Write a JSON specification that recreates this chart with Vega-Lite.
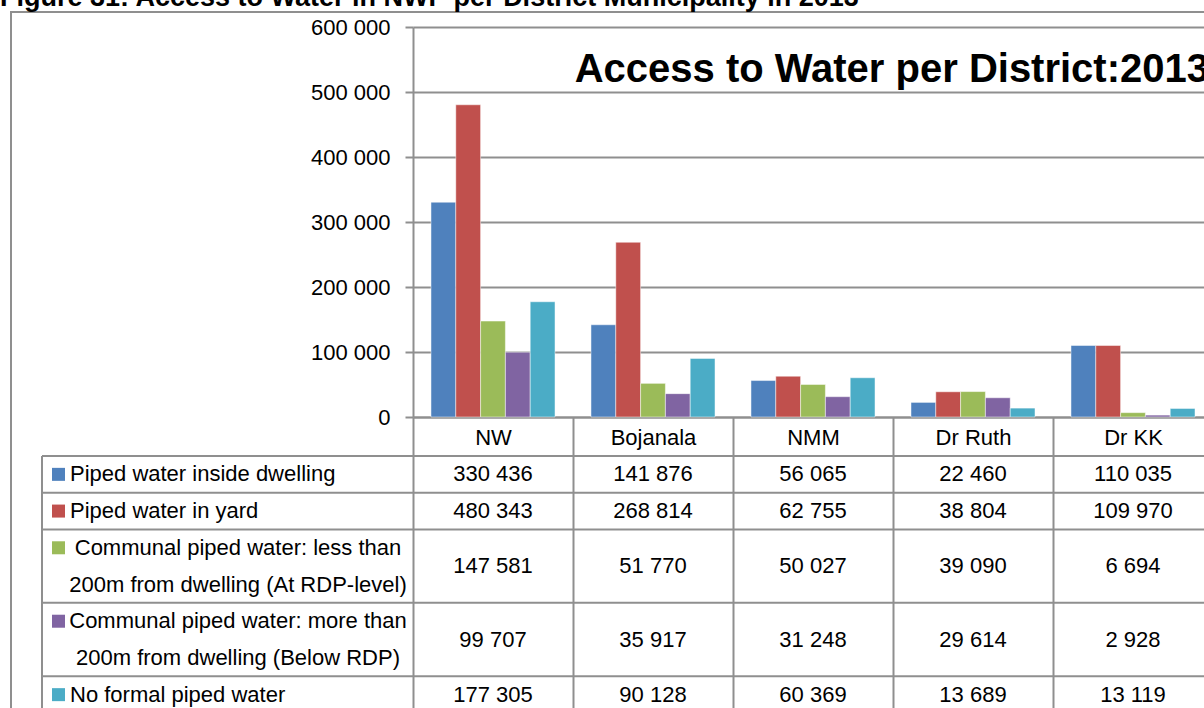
{
  "$schema": "https://vega.github.io/schema/vega-lite/v6.json",
  "width": 791,
  "height": 390,
  "autosize": "none",
  "padding": {"left": 413, "top": 27, "right": 0, "bottom": 291},
  "background": "white",
  "config": {
    "locale": {"number": {"decimal": ".", "thousands": " ", "grouping": [3], "currency": ["", ""]}},
    "view": {"stroke": null},
    "font": "Liberation Sans"
  },
  "title": {
    "text": "Access to Water per District:2013",
    "orient": "top",
    "anchor": "end",
    "frame": "group",
    "offset": -106,
    "dx": 5,
    "font": "Liberation Sans",
    "fontSize": 40,
    "fontWeight": "bold",
    "color": "black"
  },
  "datasets": {
    "water": [
      {"district": "NW", "series": "Piped water inside dwelling", "value": 330436},
      {"district": "NW", "series": "Piped water in yard", "value": 480343},
      {"district": "NW", "series": "Communal piped water: less than 200m from dwelling (At RDP-level)", "value": 147581},
      {"district": "NW", "series": "Communal piped water: more than 200m from dwelling (Below RDP)", "value": 99707},
      {"district": "NW", "series": "No formal piped water", "value": 177305},
      {"district": "Bojanala", "series": "Piped water inside dwelling", "value": 141876},
      {"district": "Bojanala", "series": "Piped water in yard", "value": 268814},
      {"district": "Bojanala", "series": "Communal piped water: less than 200m from dwelling (At RDP-level)", "value": 51770},
      {"district": "Bojanala", "series": "Communal piped water: more than 200m from dwelling (Below RDP)", "value": 35917},
      {"district": "Bojanala", "series": "No formal piped water", "value": 90128},
      {"district": "NMM", "series": "Piped water inside dwelling", "value": 56065},
      {"district": "NMM", "series": "Piped water in yard", "value": 62755},
      {"district": "NMM", "series": "Communal piped water: less than 200m from dwelling (At RDP-level)", "value": 50027},
      {"district": "NMM", "series": "Communal piped water: more than 200m from dwelling (Below RDP)", "value": 31248},
      {"district": "NMM", "series": "No formal piped water", "value": 60369},
      {"district": "Dr Ruth", "series": "Piped water inside dwelling", "value": 22460},
      {"district": "Dr Ruth", "series": "Piped water in yard", "value": 38804},
      {"district": "Dr Ruth", "series": "Communal piped water: less than 200m from dwelling (At RDP-level)", "value": 39090},
      {"district": "Dr Ruth", "series": "Communal piped water: more than 200m from dwelling (Below RDP)", "value": 29614},
      {"district": "Dr Ruth", "series": "No formal piped water", "value": 13689},
      {"district": "Dr KK", "series": "Piped water inside dwelling", "value": 110035},
      {"district": "Dr KK", "series": "Piped water in yard", "value": 109970},
      {"district": "Dr KK", "series": "Communal piped water: less than 200m from dwelling (At RDP-level)", "value": 6694},
      {"district": "Dr KK", "series": "Communal piped water: more than 200m from dwelling (Below RDP)", "value": 2928},
      {"district": "Dr KK", "series": "No formal piped water", "value": 13119}
    ],
    "rowmap": [
      {"series": "Piped water inside dwelling", "top": "r1", "bottom": "r1"},
      {"series": "Piped water in yard", "top": "r2", "bottom": "r2"},
      {"series": "Communal piped water: less than 200m from dwelling (At RDP-level)", "top": "r3a", "bottom": "r3b"},
      {"series": "Communal piped water: more than 200m from dwelling (Below RDP)", "top": "r4a", "bottom": "r4b"},
      {"series": "No formal piped water", "top": "r5", "bottom": "r5"}
    ],
    "rows": [
      {"series": "Piped water inside dwelling", "slot": "r1", "line": "Piped water inside dwelling"},
      {"series": "Piped water in yard", "slot": "r2", "line": "Piped water in yard"},
      {"series": "Communal piped water: less than 200m from dwelling (At RDP-level)", "slot": "r3a", "line": "Communal piped water: less than"},
      {"series": "Communal piped water: less than 200m from dwelling (At RDP-level)", "slot": "r3b", "line": "200m from dwelling (At RDP-level)"},
      {"series": "Communal piped water: more than 200m from dwelling (Below RDP)", "slot": "r4a", "line": "Communal piped water: more than"},
      {"series": "Communal piped water: more than 200m from dwelling (Below RDP)", "slot": "r4b", "line": "200m from dwelling (Below RDP)"},
      {"series": "No formal piped water", "slot": "r5", "line": "No formal piped water"}
    ]
  },
  "layer": [
    {
      "data": {"values": [{}]},
      "mark": {"type": "rect", "fill": null, "stroke": "#8f8f8f", "strokeWidth": 2, "x": -402, "y": -15, "x2": 820, "y2": 700},
      "encoding": {}
    },
    {
      "data": {"values": [{}]},
      "mark": {"type": "text", "text": "Figure 31: Access to Water in NWP per District Municipality in 2013", "font": "Liberation Sans", "fontWeight": "bold", "fontSize": 27, "align": "left", "baseline": "alphabetic", "x": -413, "y": -21, "color": "black"},
      "encoding": {}
    },
    {
      "data": {"name": "rowmap"},
      "mark": {"type": "rule", "color": "#8f8f8f", "strokeWidth": 2},
      "encoding": {
        "x": {"datum": "legend", "type": "nominal", "bandPosition": 0, "scale": {"type": "band", "domain": ["legend"], "range": [-371, 0], "paddingInner": 0, "paddingOuter": 0}, "axis": null},
        "x2": {"value": "width"},
        "y": {"field": "top", "type": "nominal", "bandPosition": 0, "scale": {"type": "band", "domain": ["r1", "r2", "r3a", "r3b", "r4a", "r4b", "r5"], "range": [429, 686], "paddingInner": 0, "paddingOuter": 0}, "axis": null}
      }
    },
    {
      "data": {"values": [{}]},
      "mark": {"type": "rule", "color": "#8f8f8f", "strokeWidth": 2},
      "encoding": {
        "x": {"datum": "legend", "type": "nominal", "bandPosition": 0, "scale": {"type": "band", "domain": ["legend"], "range": [-371, 0], "paddingInner": 0, "paddingOuter": 0}, "axis": null},
        "y": {"datum": "r1", "type": "nominal", "bandPosition": 0, "scale": {"type": "band", "domain": ["r1", "r2", "r3a", "r3b", "r4a", "r4b", "r5"], "range": [429, 686], "paddingInner": 0, "paddingOuter": 0}, "axis": null},
        "y2": {"value": {"expr": "height + 400"}}
      }
    },
    {
      "data": {"name": "water"},
      "mark": {"type": "bar", "stroke": "white", "strokeWidth": 0.8, "strokeOpacity": 0.6},
      "encoding": {
        "x": {
          "field": "district", "type": "nominal", "sort": null,
          "scale": {"domain": ["NW", "Bojanala", "NMM", "Dr Ruth", "Dr KK"], "range": [0, 800], "paddingInner": 0, "paddingOuter": 0},
          "axis": {
            "orient": "bottom", "title": null, "labelAngle": 0, "labelFont": "Liberation Sans", "labelFontSize": 22, "labelColor": "black",
            "labelBaseline": "middle", "labelPadding": -276, "tickBand": "extent", "tickSize": 296, "tickColor": "#8f8f8f", "tickWidth": 2,
            "domainColor": "#8f8f8f", "domainWidth": 2, "grid": false
          }
        },
        "xOffset": {"field": "series", "type": "nominal", "sort": null, "scale": {"domain": ["Piped water inside dwelling", "Piped water in yard", "Communal piped water: less than 200m from dwelling (At RDP-level)", "Communal piped water: more than 200m from dwelling (Below RDP)", "No formal piped water"], "paddingInner": 0, "paddingOuter": 0.725}},
        "y": {
          "field": "value", "type": "quantitative",
          "scale": {"domain": [0, 600000], "nice": false},
          "axis": {
            "orient": "left", "title": null, "values": [0, 100000, 200000, 300000, 400000, 500000, 600000], "format": ",.0f",
            "labelFont": "Liberation Sans", "labelFontSize": 22, "labelColor": "black", "labelPadding": 15,
            "tickSize": 8, "tickColor": "#8f8f8f", "tickWidth": 2, "domainColor": "#8f8f8f", "domainWidth": 2,
            "grid": true, "gridColor": "#8f8f8f", "gridWidth": 2
          }
        },
        "color": {"field": "series", "type": "nominal", "scale": {"domain": ["Piped water inside dwelling", "Piped water in yard", "Communal piped water: less than 200m from dwelling (At RDP-level)", "Communal piped water: more than 200m from dwelling (Below RDP)", "No formal piped water"], "range": ["#4F81BD", "#C0504D", "#9BBB59", "#8064A2", "#4BACC6"]}, "legend": null}
      }
    },
    {
      "data": {"name": "water"},
      "transform": [
        {"lookup": "series", "from": {"data": {"name": "rowmap"}, "key": "series", "fields": ["top", "bottom"]}},
        {"filter": "datum.top === datum.bottom"}
      ],
      "mark": {"type": "text", "font": "Liberation Sans", "fontSize": 22, "align": "center", "baseline": "middle", "color": "black"},
      "encoding": {
        "x": {"field": "district", "type": "nominal", "sort": null, "scale": {"domain": ["NW", "Bojanala", "NMM", "Dr Ruth", "Dr KK"], "range": [0, 800], "paddingInner": 0, "paddingOuter": 0}, "axis": null},
        "y": {"field": "top", "type": "nominal", "bandPosition": 0.5, "scale": {"type": "band", "domain": ["r1", "r2", "r3a", "r3b", "r4a", "r4b", "r5"], "range": [429, 686], "paddingInner": 0, "paddingOuter": 0}, "axis": null},
        "text": {"field": "value", "type": "quantitative", "format": ","}
      }
    },
    {
      "data": {"name": "water"},
      "transform": [
        {"lookup": "series", "from": {"data": {"name": "rowmap"}, "key": "series", "fields": ["top", "bottom"]}},
        {"filter": "datum.top !== datum.bottom"}
      ],
      "mark": {"type": "text", "font": "Liberation Sans", "fontSize": 22, "align": "center", "baseline": "middle", "color": "black"},
      "encoding": {
        "x": {"field": "district", "type": "nominal", "sort": null, "scale": {"domain": ["NW", "Bojanala", "NMM", "Dr Ruth", "Dr KK"], "range": [0, 800], "paddingInner": 0, "paddingOuter": 0}, "axis": null},
        "y": {"field": "bottom", "type": "nominal", "bandPosition": 0, "scale": {"type": "band", "domain": ["r1", "r2", "r3a", "r3b", "r4a", "r4b", "r5"], "range": [429, 686], "paddingInner": 0, "paddingOuter": 0}, "axis": null},
        "text": {"field": "value", "type": "quantitative", "format": ","}
      }
    },
    {
      "data": {"name": "rowmap"},
      "mark": {"type": "point", "shape": "square", "filled": true, "size": 169, "opacity": 1, "strokeWidth": 0},
      "encoding": {
        "x": {"datum": "legend", "type": "nominal", "bandPosition": 0, "scale": {"type": "band", "domain": ["legend"], "range": [-371, 0], "paddingInner": 0, "paddingOuter": 0}, "axis": null},
        "xOffset": {"value": 16.5},
        "y": {"field": "top", "type": "nominal", "bandPosition": 0.5, "scale": {"type": "band", "domain": ["r1", "r2", "r3a", "r3b", "r4a", "r4b", "r5"], "range": [429, 686], "paddingInner": 0, "paddingOuter": 0}, "axis": null},
        "color": {"field": "series", "type": "nominal", "scale": {"domain": ["Piped water inside dwelling", "Piped water in yard", "Communal piped water: less than 200m from dwelling (At RDP-level)", "Communal piped water: more than 200m from dwelling (Below RDP)", "No formal piped water"], "range": ["#4F81BD", "#C0504D", "#9BBB59", "#8064A2", "#4BACC6"]}, "legend": null}
      }
    },
    {
      "data": {"name": "rows"},
      "transform": [
        {"lookup": "series", "from": {"data": {"name": "rowmap"}, "key": "series", "fields": ["top", "bottom"]}},
        {"filter": "datum.top === datum.bottom"}
      ],
      "mark": {"type": "text", "font": "Liberation Sans", "fontSize": 22, "align": "left", "baseline": "middle", "dx": 28, "color": "black"},
      "encoding": {
        "x": {"datum": "legend", "type": "nominal", "bandPosition": 0, "scale": {"type": "band", "domain": ["legend"], "range": [-371, 0], "paddingInner": 0, "paddingOuter": 0}, "axis": null},
        "y": {"field": "slot", "type": "nominal", "bandPosition": 0.5, "scale": {"type": "band", "domain": ["r1", "r2", "r3a", "r3b", "r4a", "r4b", "r5"], "range": [429, 686], "paddingInner": 0, "paddingOuter": 0}, "axis": null},
        "text": {"field": "line", "type": "nominal"}
      }
    },
    {
      "data": {"name": "rows"},
      "transform": [
        {"lookup": "series", "from": {"data": {"name": "rowmap"}, "key": "series", "fields": ["top", "bottom"]}},
        {"filter": "datum.top !== datum.bottom"}
      ],
      "mark": {"type": "text", "font": "Liberation Sans", "fontSize": 22, "align": "center", "baseline": "middle", "dx": 196, "color": "black"},
      "encoding": {
        "x": {"datum": "legend", "type": "nominal", "bandPosition": 0, "scale": {"type": "band", "domain": ["legend"], "range": [-371, 0], "paddingInner": 0, "paddingOuter": 0}, "axis": null},
        "y": {"field": "slot", "type": "nominal", "bandPosition": 0.5, "scale": {"type": "band", "domain": ["r1", "r2", "r3a", "r3b", "r4a", "r4b", "r5"], "range": [429, 686], "paddingInner": 0, "paddingOuter": 0}, "axis": null},
        "text": {"field": "line", "type": "nominal"}
      }
    }
  ],
  "resolve": {"scale": {"x": "independent", "y": "independent"}}
}
